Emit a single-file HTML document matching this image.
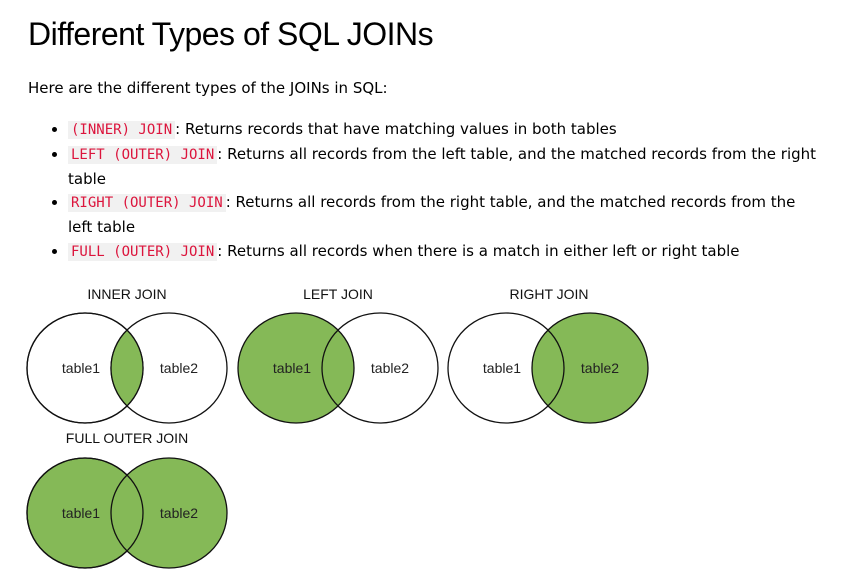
<!DOCTYPE html>
<html><head><meta charset="utf-8"><style>
body{margin:0;background:#fff;width:859px;height:583px;overflow:hidden;font-family:"DejaVu Sans","Liberation Sans",sans-serif;color:#000}
h1{position:absolute;left:28px;top:16px;margin:0;font-weight:normal;font-size:32px;font-family:"Liberation Sans",sans-serif;letter-spacing:-0.5px}
p{position:absolute;left:28px;top:79px;margin:0;font-size:15px}
ul{position:absolute;left:28px;top:118px;margin:0;padding-left:40px;font-size:15px;line-height:23.8px;width:752px}
li{margin:0}
code{font-family:"DejaVu Sans Mono","Liberation Mono",monospace;font-size:14px;color:#dc143c;background:#f1f1f1;padding:1px 3px}
svg{position:absolute;left:0;top:0}
</style></head><body>
<h1>Different Types of SQL JOINs</h1>
<p>Here are the different types of the JOINs in SQL:</p>
<ul>
<li><code>(INNER) JOIN</code>: Returns records that have matching values in both tables</li>
<li><code>LEFT (OUTER) JOIN</code>: Returns all records from the left table, and the matched records from the right table</li>
<li><code>RIGHT (OUTER) JOIN</code>: Returns all records from the right table, and the matched records from the left table</li>
<li><code>FULL (OUTER) JOIN</code>: Returns all records when there is a match in either left or right table</li>
</ul>
<svg width="859" height="583" font-family="Liberation Sans, sans-serif" font-size="14">
<defs>
<clipPath id="c1"><ellipse cx="85" cy="368" rx="58" ry="55"/></clipPath>
</defs>
<g fill="#111" text-anchor="middle">
<text x="127" y="299">INNER JOIN</text>
<text x="338" y="299">LEFT JOIN</text>
<text x="549" y="299">RIGHT JOIN</text>
<text x="127" y="443">FULL OUTER JOIN</text>
</g>
<g stroke="#111" stroke-width="1.3">
<ellipse cx="85" cy="368" rx="58" ry="55" fill="none"/>
<ellipse cx="169" cy="368" rx="58" ry="55" fill="none"/>
<ellipse cx="169" cy="368" rx="58" ry="55" fill="#85b957" clip-path="url(#c1)"/>
<ellipse cx="85" cy="368" rx="58" ry="55" fill="none"/>
</g>
<g stroke="#111" stroke-width="1.3">
<ellipse cx="296" cy="368" rx="58" ry="55" fill="#85b957"/>
<ellipse cx="380" cy="368" rx="58" ry="55" fill="none"/>
</g>
<g stroke="#111" stroke-width="1.3">
<ellipse cx="590" cy="368" rx="58" ry="55" fill="#85b957"/>
<ellipse cx="506" cy="368" rx="58" ry="55" fill="none"/>
</g>
<g stroke="#111" stroke-width="1.3">
<ellipse cx="85" cy="513" rx="58" ry="55" fill="#85b957"/>
<ellipse cx="169" cy="513" rx="58" ry="55" fill="#85b957"/>
<ellipse cx="85" cy="513" rx="58" ry="55" fill="none"/>
</g>
<g fill="#222" text-anchor="middle">
<text x="81" y="373">table1</text><text x="179" y="373">table2</text>
<text x="292" y="373">table1</text><text x="390" y="373">table2</text>
<text x="502" y="373">table1</text><text x="600" y="373">table2</text>
<text x="81" y="518">table1</text><text x="179" y="518">table2</text>
</g>
</svg>
</body></html>
